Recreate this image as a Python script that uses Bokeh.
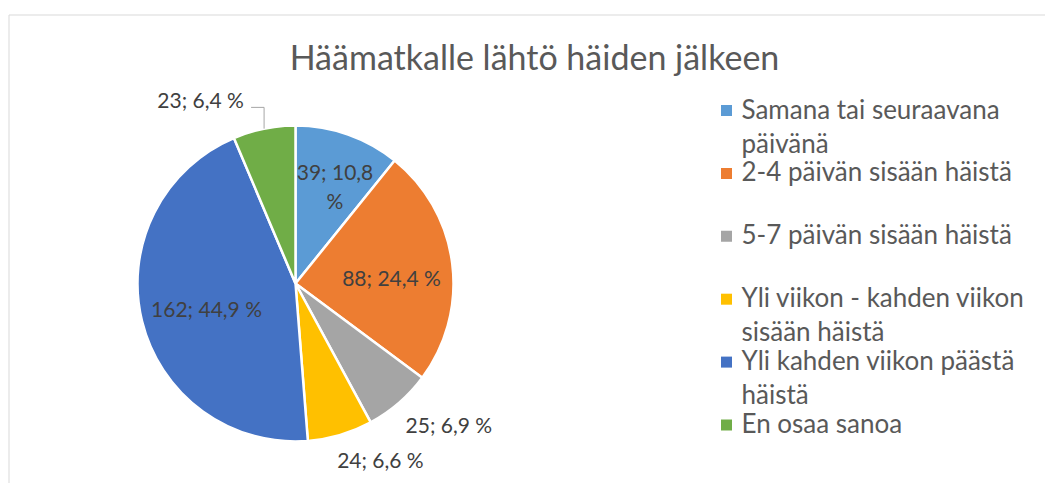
import math
from bokeh.plotting import figure
from bokeh.models import Range1d, ColumnDataSource
from bokeh.core.properties import value
from bokeh.embed import file_html
from bokeh.resources import INLINE

# ---------------- data ----------------
title = "Häämatkalle lähtö häiden jälkeen"
categories = [
    "Samana tai seuraavana päivänä",
    "2-4 päivän sisään häistä",
    "5-7 päivän sisään häistä",
    "Yli viikon - kahden viikon sisään häistä",
    "Yli kahden viikon päästä häistä",
    "En osaa sanoa",
]
counts = [39, 88, 25, 24, 162, 23]
percents = [10.8, 24.4, 6.9, 6.6, 44.9, 6.4]
colors = ["#5B9BD5", "#ED7D31", "#A5A5A5", "#FFC000", "#4472C4", "#70AD47"]
legend_lines = [
    ["Samana tai seuraavana", "päivänä"],
    ["2-4 päivän sisään häistä"],
    ["5-7 päivän sisään häistä"],
    ["Yli viikon - kahden viikon", "sisään häistä"],
    ["Yli kahden viikon päästä", "häistä"],
    ["En osaa sanoa"],
]

# ---------------- layout ----------------
W, H = 1045, 483
def X(px):
    return px
def Y(py):
    return H - py

FONT = "Lato"
CX, CY, R = X(295), Y(283), 158
label_r = [0.666, 0.609, 1.317, 1.237, 0.585, 1.311]
label_dtheta = [2.6, 3.6, -6.6, -9.3, -2.0, -15.8]
label_wrap = [True, False, False, False, False, False]

p = figure(width=W, height=H, x_range=Range1d(0, W), y_range=Range1d(0, H),
           output_backend="svg", toolbar_location=None, min_border=0,
           x_axis_type=None, y_axis_type=None, outline_line_color=None,
           background_fill_color="white", border_fill_color="white")
p.grid.visible = False

# chart border
p.quad(left=X(8.5), right=W + 50, top=Y(14.5), bottom=-30,
       fill_color=None, line_color="#D9D9D9", line_width=1)

# wedges
total = sum(counts)
starts, ends, mids = [], [], []
cum = 0
for c in counts:
    a0 = cum / total * 2 * math.pi
    cum += c
    a1 = cum / total * 2 * math.pi
    starts.append(math.pi / 2 - a0)
    ends.append(math.pi / 2 - a1)
    mids.append((a0 + a1) / 2)

src = ColumnDataSource(dict(start=starts, end=ends, color=colors, cat=categories))
p.wedge(x=CX, y=CY, radius=R, start_angle="start", end_angle="end",
        direction="clock", fill_color="color", line_color="white",
        line_width=2.5, source=src)

# data labels
def fmt(v, pct):
    return f"{v}; {pct:.1f} %".replace(".", ",")

lx, ly, lt = [], [], []
for i, (v, pct) in enumerate(zip(counts, percents)):
    th = mids[i] + math.radians(label_dtheta[i])
    r = label_r[i] * R
    cx = CX + r * math.sin(th)
    cy = CY + r * math.cos(th)
    txt = fmt(v, pct)
    if label_wrap[i]:
        parts = txt.rsplit(" ", 1)
        lx += [cx, cx]
        ly += [cy + 14.5, cy - 14.5]
        lt += parts
    else:
        lx.append(cx)
        ly.append(cy)
        lt.append(txt)
    if i == 5:
        # leader line for the outside label
        ex = CX + R * math.sin(mids[i])
        ey = CY + R * math.cos(mids[i])
        yl = cy - 8
        p.line(x=[ex - 13, ex, ex], y=[yl, yl, ey], line_color="#A6A6A6", line_width=1)

p.text(x=lx, y=ly, text=lt, text_align="center", text_baseline="middle",
       text_font=value(FONT), text_font_size="21px", text_color="#404040")

# title
p.text(x=[X(534)], y=[Y(56)], text=[title], text_align="center",
       text_baseline="middle", text_font=value(FONT),
       text_font_size="34px", text_color="#595959")

# legend
sq_x, sq_y, sq_c = [], [], []
tx, ty, tt = [], [], []
for i, lines in enumerate(legend_lines):
    c = 108 + 62.9 * i
    sq_x.append(X(726))
    sq_y.append(Y(c + 2))
    sq_c.append(colors[i])
    for j, ln in enumerate(lines):
        tx.append(X(741))
        ty.append(Y(c + 34 * j))
        tt.append(ln)
p.scatter(x=sq_x, y=sq_y, marker="square", size=11, fill_color=sq_c, line_color=None)
p.text(x=tx, y=ty, text=tt, text_align="left", text_baseline="middle",
       text_font=value(FONT), text_font_size="26px", text_color="#595959")

open("out.html", "w").write(file_html(p, INLINE))
